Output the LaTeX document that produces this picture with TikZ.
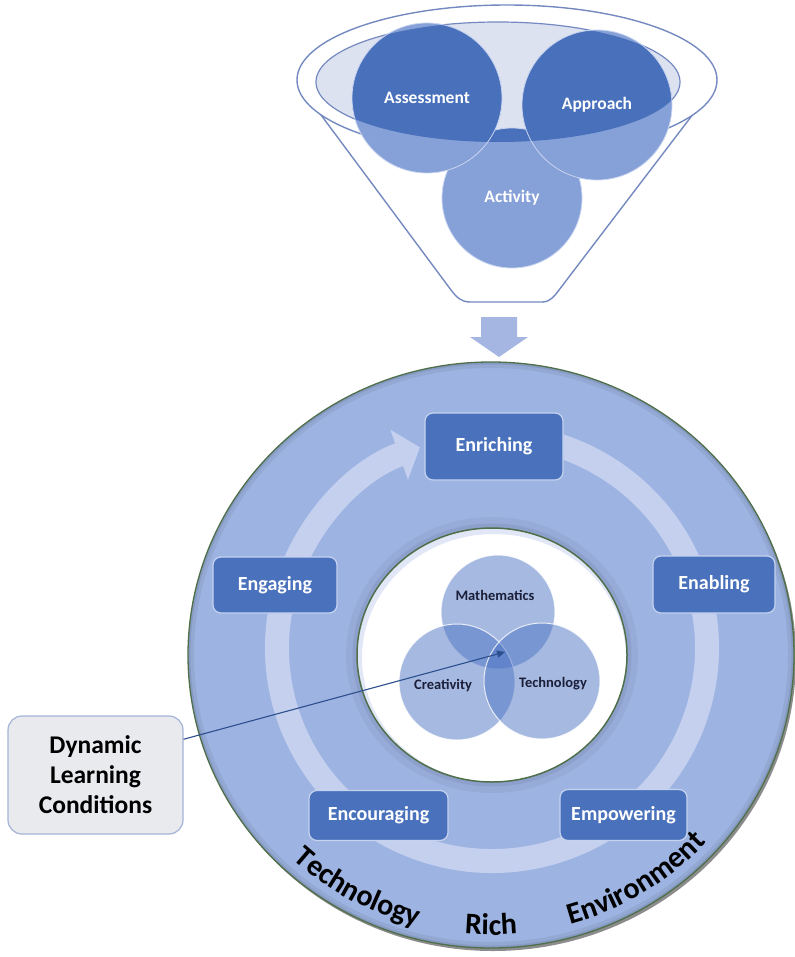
\documentclass[tikz,border=0pt]{standalone}
\usepackage{fontspec}
\setmainfont{Carlito}
\usetikzlibrary{arrows.meta,calc,decorations.text}

\definecolor{ringfill}{HTML}{9DB3E1}
\definecolor{ringedge}{HTML}{4F6F4A}
\definecolor{bandcol}{HTML}{C4D0EE}
\definecolor{boxfill}{HTML}{4A72BC}
\definecolor{boxedge}{HTML}{C6D3EF}
\definecolor{funnelline}{HTML}{7489C0}
\definecolor{funneltop}{HTML}{DDE2F1}
\definecolor{bubbledark}{HTML}{4870BB}
\definecolor{bubblelight}{HTML}{86A0D8}
\definecolor{bubbleedge}{HTML}{C9D5F0}
\definecolor{vennfill}{HTML}{4D74C4}
\definecolor{venntext}{HTML}{1B1F3A}
\definecolor{calloutfill}{HTML}{E9EAEE}
\definecolor{calloutedge}{HTML}{A3B4D6}
\definecolor{pointer}{HTML}{2D4F8E}
\definecolor{dropcol}{HTML}{A4B6E1}

\newcommand{\ringfont}{\bfseries\fontsize{30}{30}\selectfont}

% one circle of the funnel: light below the rim, dark inside the rim
\newcommand{\funnelbubble}[3]{%
  \node[circle, minimum size=#3, inner sep=0pt, fill=bubblelight] (#1) at #2 {};
  \begin{scope}
    \clip (498,-82) ellipse[x radius=182, y radius=60];
    \fill[bubbledark] (#1.center) circle[radius=#3/2];
  \end{scope}
  \draw[bubbleedge, line width=0.8pt] (#1.center) circle[radius=#3/2];
}

\begin{document}
\begin{tikzpicture}[x=1pt,y=1pt,
  stagebox/.style={draw=boxedge, line width=1.2pt, fill=boxfill, rounded corners=8pt,
    text=white, font=\bfseries\fontsize{20}{24}\selectfont, inner sep=0pt},
  bubbletext/.style={text=white, font=\bfseries\fontsize{17.5}{20}\selectfont},
  venncircle/.style={circle, minimum size=#1, inner sep=0pt, fill=vennfill,
    fill opacity=0.5, draw=white, draw opacity=0.8, line width=1pt},
  venntxt/.style={text=venntext, font=\bfseries\fontsize{14.5}{16}\selectfont},
  ringword/.style={decorate, decoration={text along path, text align=center, text={|\ringfont|#1}}}
]
\useasboundingbox (0,0) rectangle (794,-957);

% ---------- funnel ----------
\draw[funnelline, line width=1.4pt, fill=white]
  (298,-84) -- (451,-290) to[out=-53,in=180] (470,-302) -- (542,-302)
  to[out=0,in=-127] (559,-290) -- (716,-84);
\draw[funnelline, line width=1.4pt, fill=white] (507,-80) ellipse[x radius=210, y radius=75];
\draw[funnelline, line width=1.2pt, fill=funneltop] (498,-82) ellipse[x radius=182, y radius=60];

\funnelbubble{activity}{(512,-198)}{140pt}
\funnelbubble{assess}{(427,-98)}{150pt}
\funnelbubble{approach}{(597,-105)}{150pt}

\node[bubbletext] (assessT) at (assess) {Assessment};
\node[bubbletext] (approachT) at (approach) {Approach};
\node[bubbletext] (activityT) at (activity) {Activity};

% ---------- arrow down ----------
\fill[dropcol] (481,-317) -- (517,-317) -- (517,-337) -- (528,-337) -- (499,-357)
  -- (470,-337) -- (481,-337) -- cycle;

% ---------- outer ring ----------
\fill[black, opacity=0.45] (493,-658) ellipse[x radius=303, y radius=293];
\fill[ringfill] (491,-655) ellipse[x radius=303, y radius=293];
\begin{scope}
  \clip (491,-655) ellipse[x radius=303, y radius=293];
  \draw[line width=12pt, color=black, opacity=0.06] (491,-655) ellipse[x radius=303, y radius=293];
  \draw[line width=5pt, color=black, opacity=0.08] (491,-655) ellipse[x radius=303, y radius=293];
\end{scope}
\draw[ringedge, line width=1.3pt] (491,-655) ellipse[x radius=303, y radius=293];

% circular flow band
\draw[bandcol, line width=24pt, -{Triangle[width=52pt,length=22pt]}]
  (492,-648) ++(72:215 and 213) arc[start angle=72, end angle=-250.4, x radius=215, y radius=213];

% inner hole with a soft shadow around it
\draw[line width=12pt, black, opacity=0.04] (492,-655) ellipse[x radius=140, y radius=132];
\draw[line width=5pt, black, opacity=0.06] (492,-655) ellipse[x radius=137, y radius=129];
\fill[white] (492,-655) ellipse[x radius=135, y radius=127];
\begin{scope}
  \clip (492,-655) ellipse[x radius=135, y radius=127];
  \draw[line width=6pt, bandcol, opacity=0.5] (494,-658) ellipse[x radius=135, y radius=127];
\end{scope}
\draw[ringedge, line width=1.5pt] (492,-655) ellipse[x radius=135, y radius=127];

% ---------- stage boxes ----------
\node[stagebox, minimum width=138pt, minimum height=67pt] (enriching) at (494,-446.5) {Enriching};
\node[stagebox, minimum width=124pt, minimum height=56pt] (engaging) at (275,-585) {Engaging};
\node[stagebox, minimum width=122pt, minimum height=57pt] (enabling) at (714,-584.5) {Enabling};
\node[stagebox, minimum width=139pt, minimum height=50pt] (encouraging) at (378.5,-815.5) {Encouraging};
\node[stagebox, minimum width=127pt, minimum height=51pt] (empowering) at (623.5,-815) {Empowering};

% ---------- Venn core ----------
\node[venncircle=114pt] (math) at (498,-612) {};
\node[venncircle=116pt] (creat) at (457,-682) {};
\node[venncircle=116pt] (tech) at (542,-681) {};
\node[venntxt] (mathT) at (495,-595) {Mathematics};
\node[venntxt] (creatT) at (443,-686) {Creativity};
\node[venntxt] (techT) at (553,-684) {Technology};

% ---------- words around the rim ----------
\path[ringword=Technology] (491,-655) ++(215:290 and 280)
  arc[start angle=215, end angle=267, x radius=290, y radius=280];
\path[ringword=Rich] (491,-655) ++(255:290 and 280)
  arc[start angle=255, end angle=285, x radius=290, y radius=280];
\path[ringword=Environment] (491,-655) ++(275:290 and 280)
  arc[start angle=275, end angle=329, x radius=290, y radius=280];

% ---------- callout ----------
\node[draw=calloutedge, fill=calloutfill, rounded corners=14pt, line width=1.2pt,
  minimum width=175pt, minimum height=118pt, align=center,
  font=\bfseries\fontsize{25.5}{30}\selectfont] (dlc) at (95.5,-775)
  {Dynamic\\Learning\\Conditions};
\coordinate (hub) at (505,-652);
\draw[pointer, line width=1.1pt, -{Triangle[width=7pt,length=8pt]}]
  ($(dlc.north east)!0.2!(dlc.south east)$) -- (hub);
\end{tikzpicture}
\end{document}
